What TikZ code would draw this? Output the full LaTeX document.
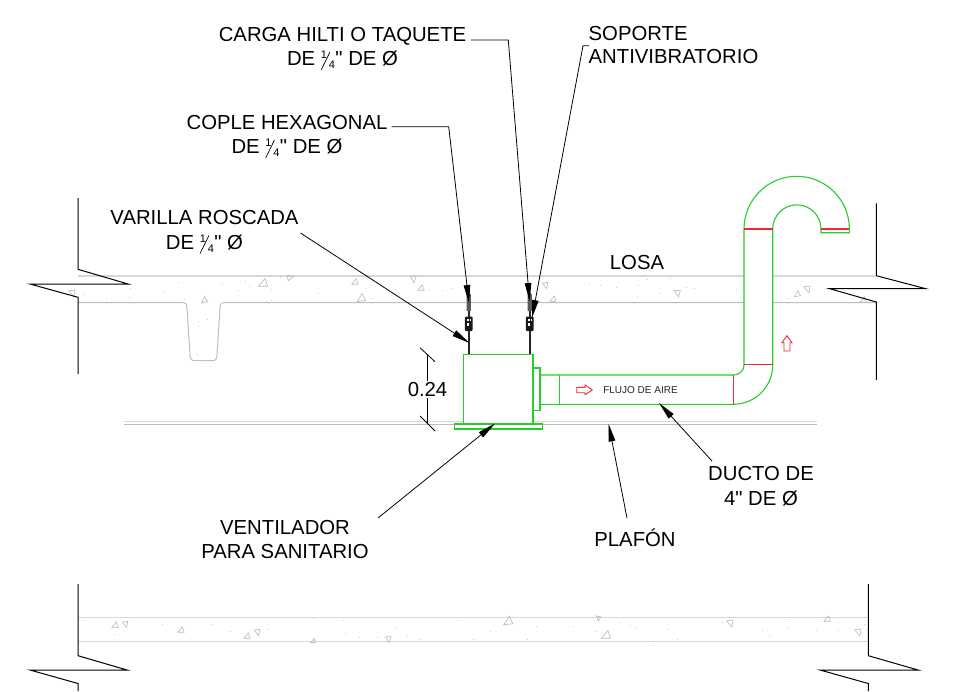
\documentclass[tikz,border=0pt]{standalone}
\usepackage{fontspec}
\setmainfont[Ligatures=TeXOff]{Liberation Sans}
\usetikzlibrary{arrows.meta}
\definecolor{duct}{RGB}{40,205,40}
\definecolor{ductred}{RGB}{240,40,50}
\definecolor{slabA}{RGB}{215,215,215}
\definecolor{slabB}{RGB}{190,190,190}
\definecolor{speck}{RGB}{185,185,185}
\definecolor{speckdot}{RGB}{205,205,205}
\newcommand{\qtr}{{\fontsize{11}{11}\selectfont\rlap{\raisebox{7pt}{1}}\rlap{\raisebox{-4pt}{\rotatebox{-26}{\rule{0.7pt}{20pt}}}}\kern8pt\raisebox{-3pt}{4}\kern0.5pt}}
\tikzset{
  x=1pt,y=-1pt,
  lbl/.style={inner sep=0pt,align=center,text=black,font=\fontsize{20.3}{24.8}\selectfont},
  lblL/.style={inner sep=0pt,align=left,text=black,font=\fontsize{20.3}{23}\selectfont},
  brk/.style={draw=black,line width=1pt,line join=miter},
  slabtop/.style={draw=slabA,line width=1.4pt},
  slabbot/.style={draw=slabB,line width=1pt},
  ductline/.style={draw=duct,line width=1.1pt},
  redline/.style={draw=ductred,line width=1.6pt},
  redarrow/.style={draw=ductred,line width=0.9pt,fill=white,line join=miter},
  leader/.style={draw=black,line width=0.8pt,-{Triangle[length=18pt,width=6.5pt]}},
  dimline/.style={draw=black,line width=0.8pt},
  rod/.style={draw=black!85,line width=1.8pt},
  tri/.style={draw=speck,line width=0.6pt,line join=miter},
}
\newcommand{\trg}[4]{\draw[tri,shift={(#1,#2)},rotate=#4,scale=#3] (-3.5,2.5)--(3.5,2.5)--(1.5,-3.5)--cycle;}
\begin{document}
\begin{tikzpicture}
\useasboundingbox (0,0) rectangle (971,691);
\fill[white] (0,0) rectangle (971,691);
% upper slab
\draw[slabtop] (78,276) -- (876,276);
\draw[slabbot] (78,302.5) -- (183,302.5) .. controls (186,302.5) and (186.5,304) .. (187,308) -- (190,355) .. controls (190.5,359) and (191,360.7) .. (195,360.7) -- (212,360.7) .. controls (216,360.7) and (216.5,359) .. (217,355) -- (220,308) .. controls (220.5,304) and (221,302.5) .. (225,302.5) -- (876,302.5);
% lower slab
\draw[slabtop] (78,617.3) -- (868,617.3);
\draw[slabtop] (78,641.7) -- (868,641.7);
% ceiling
\draw[slabA,line width=1.2pt] (124,421.7) -- (817,421.7);
\draw[slabB,line width=1pt] (124,424.4) -- (817,424.4);
% concrete specks
\foreach \a/\b/\c/\d in {72/293/1/80,204/300/0.9/15,263/283/1.3/0,290/278/0.9/170,355/282/0.9/0,361/298/1.2/10,413/279/0.9/70,421/288/0.9/0,545/285/0.9/80,553/299/0.9/0,677/293/1/75,797/294/0.9/10,807/289/1/80,863/300/0.9/0,
 115/625/0.9/0,125/624/0.9/80,181/630/0.9/0,247/636/0.9/0,257/632/0.9/80,313/641/0.7/0,388/639/0.9/75,508/621/1.3/5,598/618/0.7/60,606/635/1.3/0,730/623/1/80,827/619/0.9/0,858/632/1/80}
  {\trg{\a}{\b}{\c}{\d}}
\foreach \a/\b in {178/282,84/294,106/299,129/297,130/288,164/292,184/299,222/284,238/290,249/286,245/281,271/289,280/277,318/293,271/300,266/301,365/288,371/298,271/285,410/276,428/290,442/290,452/288,
 589/283,600/285,616/287,638/285,647/279,637/296,660/293,670/278,686/287,694/288,736/289,740/297,756/287,787/298,198/321,207/319,198/326,197/354,
 84/620,114/634,162/624,212/624,230/631,268/629,313/618,343/620,345/633,359/637,377/637,395/628,419/639,407/635,457/620,473/639,490/631,527/639,536/626,573/626,596/631,619/622,630/625,653/645,636/627,668/629,677/639,690/617,722/622,762/630,769/636,788/627,789/619,816/630,838/622,838/630,864/624}
  {\fill[speckdot] (\a-0.5,\b-0.5) rectangle (\a+0.5,\b+0.5);}
% break lines
\draw[brk] (78,198) -- (78,269.3) -- (128,284) -- (30,284) -- (78,297.3) -- (78,374);
\draw[brk] (876.3,203.3) -- (876.3,275.7) -- (925,288.5) -- (829,288.5) -- (876.3,302) -- (876.3,380);
\draw[brk] (78,584) -- (78,655.7) -- (127,670) -- (30,670) -- (78,683.5) -- (78,691);
\draw[brk] (868.3,584) -- (868.3,655.7) -- (918,670) -- (820,670) -- (868.3,683.5) -- (868.3,691);
% white inside the vertical duct over slab
\fill[white] (744,229) rectangle (772.7,365);
% rods and couplings
\foreach \px in {468.7,529.7}{
  \draw[rod] (\px,293) -- (\px,354.7);
  \fill[black!65,rounded corners=0.5pt] (\px-2.2,294) rectangle (\px+2.2,311);
  \fill[black!90,rounded corners=1pt] (\px-3.8,316.5) rectangle (\px+3.8,331);
  \fill[white] (\px-2,318.5) rectangle (\px+0.3,321);
  \fill[white] (\px+0.8,318.5) rectangle (\px+2.5,321);
  \fill[white] (\px-2,323) rectangle (\px+0.3,325.5);
}
% fan box
\draw[ductline,fill=white] (463.5,354.7) rectangle (533,424);
\draw[ductline,fill=white] (454.5,424) rectangle (542.7,429);
\draw[ductline,fill=white] (533,368) rectangle (540,410.7);
% duct
\draw[ductline] (540,375) -- (733.6,375) .. controls (739.5,375) and (744,370.5) .. (744,365) -- (744,229)
  arc[start angle=180,end angle=360,radius=52.7] -- (849.4,232.7) -- (821,232.7) -- (821,229)
  arc[start angle=0,end angle=-180,radius=24.15] -- (772.7,365)
  arc[start angle=0,end angle=90,radius=39.3] -- (540,404.3);
\draw[ductline] (559.3,375) -- (559.3,404.3);
\draw[redline] (733.6,375) -- (733.6,404.3);
\draw[redline] (744,364.3) -- (772.7,364.3);
\draw[redline] (744,229) -- (772.7,229);
\draw[redline] (821,229) -- (849.4,229);
% flow arrows
\draw[redarrow] (782,342.7) -- (787,335.7) -- (792,342.7) -- (790,342.7) -- (790,351) -- (784,351) -- (784,342.7) -- cycle;
\draw[redarrow] (576.7,387.3) -- (585,387.3) -- (585,385) -- (592.3,390) -- (585,394.7) -- (585,392.7) -- (576.7,392.7) -- cycle;
\node[inner sep=0pt,text=black!85,font=\fontsize{10}{11}\selectfont] (flujo) at (640.5,390.2) {FLUJO DE AIRE};
% dimension
\coordinate (dimT) at (427.3,354.7);
\coordinate (dimB) at (427.3,424);
\draw[dimline] (dimT) -- (dimB);
\draw[dimline] (420,347.7) -- (435,361.7);
\draw[dimline] (420,416) -- (435,431);
\node[inner sep=1pt,fill=white,font=\fontsize{20.3}{22}\selectfont] (dimtxt) at (427.5,389.5) {0.24};
% labels
\node[lbl] (carga) at (342.5,48.5) {CARGA HILTI O TAQUETE\\DE \qtr" DE Ø};
\node[lbl] (cople) at (287,136.5) {COPLE HEXAGONAL\\DE \qtr" DE Ø};
\node[lbl] (varilla) at (204.5,232) {VARILLA ROSCADA\\DE \qtr" Ø};
\node[lblL,anchor=west] (soporte) at (588.5,45.5) {SOPORTE\\ANTIVIBRATORIO};
\node[lbl] (losa) at (637,263) {LOSA};
\node[lbl] (ducto) at (761,486) {DUCTO DE\\4" DE Ø};
\node[lbl] (plafon) at (635,537.5) {PLAFÓN};
\node[lbl] (vent) at (285,539.5) {VENTILADOR\\PARA SANITARIO};
% leader points
\coordinate (cargaS) at (471,40);
\coordinate (cargaK) at (508.3,40);
\coordinate (cargaT) at (529.5,301);
\coordinate (copleS) at (391.7,126.7);
\coordinate (copleK) at (448.7,126.7);
\coordinate (copleT) at (469,303);
\coordinate (sopS) at (589,45.7);
\coordinate (sopK) at (583,45.7);
\coordinate (sopT) at (532,318);
\coordinate (varS) at (300.5,233);
\coordinate (varT) at (469.5,343);
\coordinate (ventS) at (378,518);
\coordinate (ventT) at (495,423.5);
\coordinate (plaS) at (627,518);
\coordinate (plaT) at (608.5,423.5);
\coordinate (ducS) at (712,461);
\coordinate (ducT) at (659,403);
\draw[leader] (cargaS) -- (cargaK) -- (cargaT);
\draw[leader] (copleS) -- (copleK) -- (copleT);
\draw[leader] (sopS) -- (sopK) -- (sopT);
\draw[leader] (varS) -- (varT);
\draw[leader] (ventS) -- (ventT);
\draw[leader] (plaS) -- (plaT);
\draw[leader] (ducS) -- (ducT);
\end{tikzpicture}
\end{document}
